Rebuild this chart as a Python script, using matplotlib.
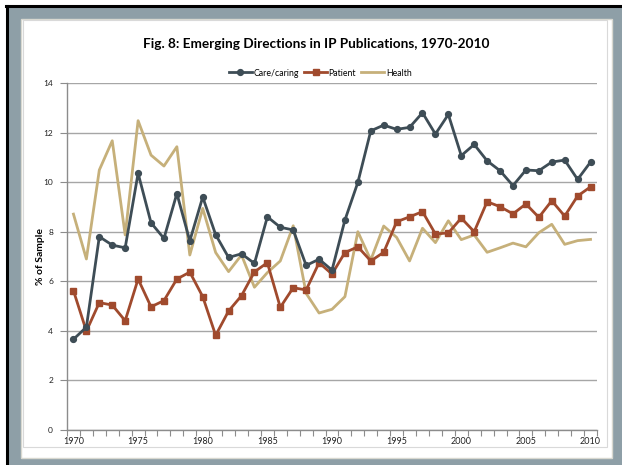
import matplotlib
matplotlib.use("Agg")
import matplotlib.pyplot as plt
from matplotlib.patches import Rectangle
from matplotlib.lines import Line2D

years = list(range(1970, 2011))

care = [3.66, 4.15, 7.80, 7.46, 7.35, 10.36, 8.36, 7.73, 9.54, 7.63, 9.40,
        7.88, 6.96, 7.11, 6.72, 8.60, 8.18, 8.07, 6.64, 6.89, 6.45,
        8.47, 9.99, 12.07, 12.30, 12.13, 12.21, 12.80, 11.94, 12.73, 11.07,
        11.52, 10.86, 10.46, 9.86, 10.49, 10.46, 10.81, 10.89, 10.11, 10.81]

patient = [5.62, 3.99, 5.14, 5.04, 4.41, 6.09, 4.97, 5.22, 6.09, 6.37, 5.38,
           3.82, 4.80, 5.42, 6.38, 6.75, 4.95, 5.74, 5.65, 6.75, 6.29,
           7.16, 7.39, 6.82, 7.17, 8.40, 8.60, 8.81, 7.91, 7.95, 8.55,
           8.00, 9.21, 9.01, 8.72, 9.12, 8.58, 9.25, 8.63, 9.44, 9.81]

health = [8.71, 6.90, 10.49, 11.67, 7.87, 12.48, 11.09, 10.65, 11.43, 7.06, 8.94,
          7.16, 6.39, 7.06, 5.76, 6.35, 6.82, 8.24, 5.51, 4.72, 4.87,
          5.38, 8.00, 6.86, 8.23, 7.77, 6.82, 8.14, 7.56, 8.44, 7.68,
          7.87, 7.17, 7.35, 7.54, 7.39, 7.96, 8.30, 7.49, 7.64, 7.69]

series_names = ["Care/caring", "Patient", "Health"]
title = "Fig. 8: Emerging Directions in IP Publications, 1970-2010"
ylabel = "% of Sample"

plt.rcParams['font.family'] = ['Lato', 'DejaVu Sans']

W, H = 622, 465
fig = plt.figure(figsize=(W / 100, H / 100), dpi=100)
fig.patch.set_facecolor('#8e9fa7')

def px(x0, y0, x1, y1):
    return (x0 / W, 1 - y1 / H, (x1 - x0) / W, (y1 - y0) / H)

# frame decorations
bg = fig.add_axes([0, 0, 1, 1], zorder=-10)
bg.set_xlim(0, W)
bg.set_ylim(H, 0)
bg.axis('off')
bg.add_patch(Rectangle((0, 0), W, H, facecolor='white', edgecolor='none'))
bg.add_patch(Rectangle((6, 6), W - 6, H - 6, facecolor='#8e9fa7', edgecolor='none'))
bg.plot([6.5, 6.5], [6, H], color='black', lw=2.2)
bg.plot([6, W], [6.5, 6.5], color='black', lw=2.2)
bg.add_patch(Rectangle((21, 19), 591, 439, facecolor='white', edgecolor='#d8d8d0', lw=1))
bg.add_patch(Rectangle((22.5, 20.5), 584.5, 426, facecolor='white', edgecolor='#d9d9d9', lw=0.8))

ax = fig.add_axes(px(67, 83, 597, 430))
ax.set_facecolor('white')

c_care = '#3e4d56'
c_pat = '#a04a2d'
c_hea = '#c6b07a'

ax.plot(years, care, color=c_care, lw=2.0, marker='o', ms=4.2, label=series_names[0], zorder=4)
ax.plot(years, patient, color=c_pat, lw=2.0, marker='s', ms=4.2, label=series_names[1], zorder=3)
ax.plot(years, health, color=c_hea, lw=2.0, label=series_names[2], zorder=2)

ax.set_xlim(1969.5, 2010.5)
ax.set_ylim(0, 14)
ax.set_yticks(range(0, 15, 2))
ax.yaxis.grid(True, color='#a6a6a6', lw=1.0)
ax.set_axisbelow(True)
for s in ['top', 'right']:
    ax.spines[s].set_visible(False)
for s in ['left', 'bottom']:
    ax.spines[s].set_color('#8c8c8c')
    ax.spines[s].set_linewidth(1.0)

ax.set_xticks([y + 0.5 for y in range(1969, 2011)])
ax.set_xticklabels([])
ax.set_xticks(list(range(1970, 2011, 5)), minor=True)
ax.set_xticklabels([str(y) for y in range(1970, 2011, 5)], minor=True)
ax.tick_params(axis='x', which='major', length=4, direction='out', color='#8c8c8c', width=0.8)
ax.tick_params(axis='x', which='minor', length=0, labelsize=6.5, pad=5, labelcolor='#222222')
ax.tick_params(axis='y', length=5, direction='out', color='#8c8c8c', width=0.8,
               labelsize=6, pad=5, labelcolor='#222222')

ax.set_ylabel(ylabel, fontsize=7.5, fontweight='bold')
ax.yaxis.set_label_coords(-0.0415, 0.5)

fig.text(0.508, 1 - 44 / H, title, ha='center', va='center', fontsize=9.8, fontweight='bold')

handles = [Line2D([], [], color=c_care, lw=2.0, marker='o', ms=4.2),
           Line2D([], [], color=c_pat, lw=2.0, marker='s', ms=4.2),
           Line2D([], [], color=c_hea, lw=2.0)]
fig.legend(handles, series_names, loc='center', bbox_to_anchor=(0.515, 1 - 73 / H), ncol=3,
           frameon=False, fontsize=6.3, handlelength=2.6, handletextpad=0.2, columnspacing=0.6)

fig.savefig('out.png', dpi=100)
